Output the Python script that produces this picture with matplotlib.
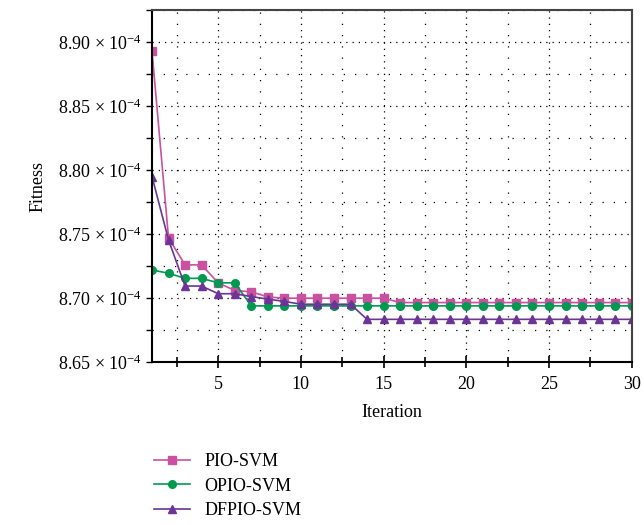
import numpy as np
import matplotlib
matplotlib.use("Agg")
import matplotlib.pyplot as plt
from matplotlib.ticker import MultipleLocator, FuncFormatter

plt.rcParams['font.family'] = ['Liberation Serif', 'DejaVu Serif']
plt.rcParams['mathtext.fontset'] = 'custom'
plt.rcParams['mathtext.rm'] = 'Liberation Serif'
plt.rcParams['mathtext.it'] = 'Liberation Serif:italic'

iterations = np.arange(1, 31)

# fitness values in units of 1e-4
pio_svm = [8.893, 8.747, 8.726, 8.726, 8.712, 8.706, 8.705, 8.701] + [8.700] * 7 + [8.6966] * 15
opio_svm = [8.722, 8.7195, 8.7155, 8.7155, 8.712, 8.712] + [8.694] * 24
dfpio_svm = [8.795, 8.7455, 8.7095, 8.7095, 8.7035, 8.7035, 8.7013, 8.6993, 8.6975,
             8.6953, 8.6953, 8.6953, 8.6953] + [8.6835] * 17

series = [
    ("PIO-SVM", pio_svm, '#c951a0', 's'),
    ("OPIO-SVM", opio_svm, '#00994f', 'o'),
    ("DFPIO-SVM", dfpio_svm, '#6b3496', '^'),
]

fig = plt.figure(figsize=(6.44, 5.25), dpi=100)
ax = fig.add_axes([0.236, 0.310, 0.745, 0.671])

for name, vals, color, marker in series:
    ax.plot(iterations, np.array(vals) * 1e-4, color=color, marker=marker,
            markersize=5.5, linewidth=1.2, label=name)

ax.set_xlim(1, 30)
ax.set_ylim(8.65e-4, 8.925e-4)
ax.xaxis.set_major_locator(MultipleLocator(5))
ax.xaxis.set_minor_locator(MultipleLocator(2.5))
ax.yaxis.set_major_locator(MultipleLocator(0.05e-4))
ax.yaxis.set_minor_locator(MultipleLocator(0.025e-4))
ax.yaxis.set_major_formatter(FuncFormatter(lambda v, p: f'{v * 1e4:.2f} \u00d7 10$^{{-4}}$'))

ax.grid(True, which='major', color='black', linestyle=(0, (1, 4)), linewidth=0.9)
ax.grid(True, which='minor', color='black', linestyle=(0, (1, 8)), linewidth=0.9)
ax.set_axisbelow(True)

ax.tick_params(axis='x', which='both', direction='inout', length=8, width=1.2, labelsize=13, pad=6)
ax.tick_params(axis='x', which='minor', length=7)
ax.tick_params(axis='y', which='both', direction='out', length=4, width=1, labelsize=13)

for s in ['left', 'bottom']:
    ax.spines[s].set_linewidth(1.5)
    ax.spines[s].set_color('black')
for s in ['top', 'right']:
    ax.spines[s].set_linewidth(1.5)
    ax.spines[s].set_color('#444444')

ax.set_xlabel('Iteration', fontsize=13, labelpad=8)
ax.set_ylabel('Fitness', fontsize=13, labelpad=8)

fig.legend(loc='upper left', bbox_to_anchor=(0.228, 0.15), frameon=False, fontsize=13,
           handlelength=2.0, labelspacing=0.4, borderaxespad=0)

fig.savefig('out.png', dpi=100)
